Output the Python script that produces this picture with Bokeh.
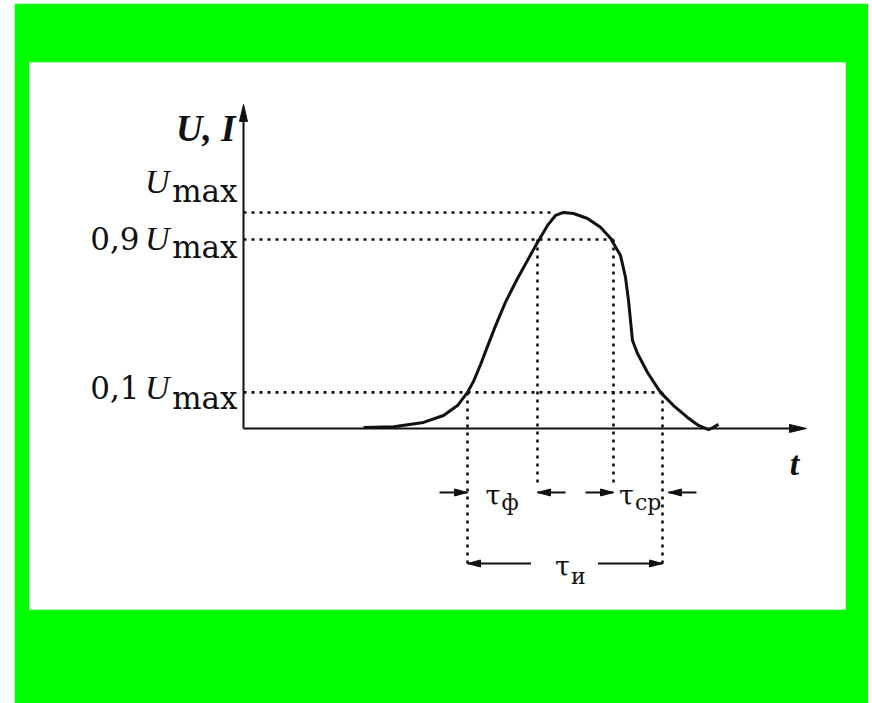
from bokeh.plotting import figure
from bokeh.models import Range1d
from bokeh.core.properties import value
from bokeh.embed import file_html
from bokeh.resources import INLINE

# ---------------- data ----------------
# pulse shape: t in arbitrary time units, U in units of U_max
t_curve = [1.20, 1.50, 1.80, 2.00, 2.14, 2.24, 2.30, 2.37, 2.44, 2.52, 2.62, 2.74, 2.84, 2.94,
           3.04, 3.12, 3.20, 3.30, 3.44, 3.57, 3.67, 3.77, 3.82, 3.85, 3.89, 3.94,
           4.04, 4.17, 4.30, 4.44, 4.55, 4.65, 4.70, 4.75]
u_curve = [0.005, 0.008, 0.028, 0.060, 0.106, 0.167, 0.218, 0.295, 0.380, 0.475, 0.585, 0.694,
           0.778, 0.861, 0.940, 0.986, 1.000, 0.995, 0.972, 0.931, 0.880, 0.801, 0.699, 0.593,
           0.407, 0.347, 0.259, 0.167, 0.106, 0.051, 0.014, -0.005, 0.005, 0.019]

# reference levels as drawn: U_max, 0.9 U_max, 0.1 U_max
level_values = [1.0, 0.875, 0.167]
level_prefix = ["", "0,9", "0,1"]
level_ends = [3.10, 3.70, 4.19]          # where each dotted level line meets the curve

# time marks: rise 10 %, rise 90 %, fall 90 %, fall 10 %
t_marks = [2.24, 2.94, 3.70, 4.19]
t_axis_end = 5.63
u_axis_end = 1.50

# ---------------- geometry helpers (screen px -> data units) ----------------
SX = 100.0   # px per t unit
SY = 216.0   # px per U unit


def dx(px):
    return px / SX


def dy(px):
    return px / SY


INK = "#111111"
SERIF = value("DejaVu Serif")
TIMES = value("Liberation Serif")

p = figure(width=854, height=700,
           x_range=Range1d(-2.14, 6.02), y_range=Range1d(-0.838, 1.694),
           output_backend="svg", toolbar_location=None,
           x_axis_location=None, y_axis_location=None,
           min_border_left=15, min_border_right=23,
           min_border_top=59, min_border_bottom=94,
           border_fill_color="#00ff00", background_fill_color="white",
           outline_line_color=None)
p.grid.visible = False
p.margin = (3, 0, 0, 14)

# ---------------- axes ----------------
p.segment(x0=[0, 0], y0=[0, 0], x1=[t_axis_end - dx(6), 0], y1=[0, u_axis_end - dy(6)],
          line_color=INK, line_width=2)


def head(xt, yt, d, L, W):
    # d: 'r', 'l', 'u'
    if d == "r":
        return [xt, xt - dx(L), xt - dx(L)], [yt, yt + dy(W), yt - dy(W)]
    if d == "l":
        return [xt, xt + dx(L), xt + dx(L)], [yt, yt + dy(W), yt - dy(W)]
    return [xt - dx(W), xt, xt + dx(W)], [yt - dy(L), yt, yt - dy(L)]


hx, hy = [], []
for xs, ys in [head(t_axis_end, 0, "r", 17, 4), head(0, u_axis_end, "u", 17, 4)]:
    hx.append(xs)
    hy.append(ys)

# ---------------- dotted guide lines ----------------
dot = dict(line_color=INK, line_width=2.6, line_dash="3 5", line_cap="butt")
p.segment(x0=[0, 0, 0], y0=level_values, x1=level_ends, y1=level_values, **dot)

row_f = -dy(64)     # arrows for tau_f / tau_sp
row_i = -dy(135)    # arrows for tau_i
low_long = -dy(140)
low_short = -dy(55)
p.segment(x0=t_marks,
          y0=[level_values[2], level_values[1], level_values[1], level_values[2]],
          x1=t_marks,
          y1=[low_long, low_short, low_short, low_long], **dot)

# ---------------- pulse curve ----------------
p.line(t_curve, u_curve, line_color=INK, line_width=3, line_join="round")

# ---------------- dimension arrows ----------------
alen = dx(28)
arrows = [  # (tail, tip, y, dir)
    (t_marks[0] - alen, t_marks[0], row_f, "r"),
    (t_marks[1] + alen, t_marks[1], row_f, "l"),
    (t_marks[2] - alen, t_marks[2], row_f, "r"),
    (t_marks[3] + alen + dx(6), t_marks[3] + dx(6), row_f, "l"),
]
mid_i = (t_marks[0] + t_marks[3]) / 2
arrows += [
    (mid_i - dx(34), t_marks[0], row_i, "l"),
    (mid_i + dx(33), t_marks[3], row_i, "r"),
]
p.segment(x0=[a[0] for a in arrows], y0=[a[2] for a in arrows],
          x1=[a[1] for a in arrows], y1=[a[2] for a in arrows],
          line_color=INK, line_width=2)
for tail, tip, yy, d in arrows:
    xs, ys = head(tip, yy, d, 13, 3.5)
    hx.append(xs)
    hy.append(ys)
p.patches(hx, hy, fill_color=INK, line_color=INK, line_width=1)

# ---------------- texts ----------------
# axis names
p.text(x=[-dx(8)], y=[u_axis_end - dy(24)], text=["U, I"],
       text_font=TIMES, text_font_size=value("37px"), text_font_style="bold italic",
       text_align="right", text_baseline="alphabetic", text_color=INK)
p.text(x=[t_axis_end - dx(12)], y=[-dy(35)], text=["t"],
       text_font=TIMES, text_font_size=value("34px"), text_font_style="bold italic",
       text_align="center", text_baseline="alphabetic", text_color=INK)

# level labels: prefix number, italic U, roman "max" subscript
u_base = [level_values[0] + dy(31), level_values[1] + dy(1), level_values[2] + dy(5)]
max_base = [level_values[0] + dy(21), level_values[1] - dy(8), level_values[2] - dy(6)]
x_max = -dx(6)
x_u = -dx(74)
x_pref = -dx(104)
p.text(x=[x_max] * 3, y=max_base, text=["max"] * 3,
       text_font=SERIF, text_font_size=value("31px"),
       text_align="right", text_baseline="alphabetic", text_color=INK)
p.text(x=[x_u] * 3, y=u_base, text=["U"] * 3,
       text_font=TIMES, text_font_size=value("34px"), text_font_style="italic",
       text_align="right", text_baseline="alphabetic", text_color=INK)
p.text(x=[x_pref] * 2, y=u_base[1:], text=level_prefix[1:],
       text_font=SERIF, text_font_size=value("31px"),
       text_align="right", text_baseline="alphabetic", text_color=INK)

# tau labels
mid_f = (t_marks[0] + t_marks[1]) / 2
mid_s = (t_marks[2] + t_marks[3]) / 2
tau_x = [mid_f - dx(2), mid_s - dx(4), mid_i + dx(5)]
tau_y = [row_f - dy(3), row_f - dy(3), row_i - dy(3)]
sub_y = [row_f - dy(10), row_f - dy(10), row_i - dy(13)]
p.text(x=tau_x, y=tau_y, text=["τ", "τ", "τ"],
       text_font=SERIF, text_font_size=value("27px"),
       text_align="right", text_baseline="alphabetic", text_color=INK)
p.text(x=[t + dx(1) for t in tau_x], y=sub_y, text=["ф", "ср", "и"],
       text_font=SERIF, text_font_size=value("22px"),
       text_align="left", text_baseline="alphabetic", text_color=INK)

open("out.html", "w").write(file_html(p, INLINE))
